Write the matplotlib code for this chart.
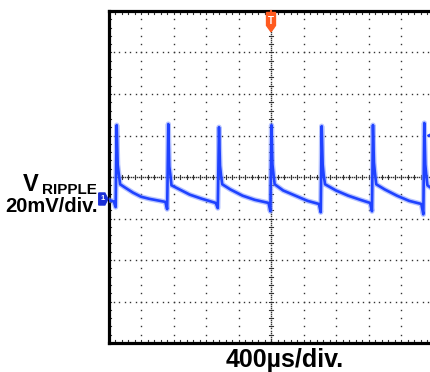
import numpy as np
import matplotlib
matplotlib.use("Agg")
import matplotlib.pyplot as plt
from matplotlib.patches import Polygon

# ---- data (time in µs relative to trigger, voltage in mV) ----
time_us = [-2000, -1935, -1912, -1899, -1887, -1875, -1857, -1800, -1700, -1600, -1500, -1300, -1278,
           -1264, -1252, -1240, -1225, -1150, -1000, -850, -680, -655,
           -640, -628, -616, -600, -500, -350, -200, -30, -8,
           6, 18, 30, 45, 150, 300, 450, 590, 612,
           624, 636, 648, 665, 800, 950, 1100, 1220, 1243,
           1255, 1267, 1279, 1295, 1400, 1550, 1700, 1850, 1875,
           1887, 1899, 1911, 1925, 1960]
ripple_mv = [-11.0, -11.8, -14.5, 25.0, 6.0, 2.0, -3.5, -5.0, -7.5, -9.5, -10.5, -12.0, -15.5,
             25.5, 5.0, 1.5, -4.0, -5.5, -8.5, -10.5, -12.5, -15.0,
             24.0, 5.5, 1.0, -3.5, -6.0, -9.0, -11.0, -12.5, -16.5,
             25.0, 6.0, 1.5, -3.5, -6.5, -9.0, -11.5, -13.0, -17.0,
             24.5, 6.0, 1.0, -3.5, -6.5, -9.0, -11.0, -12.5, -16.5,
             25.0, 7.0, 2.0, -3.5, -6.0, -9.0, -11.5, -13.0, -18.0,
             26.0, 6.0, 1.0, -4.0, -5.0]

volt_per_div = 20   # mV/div
time_per_div = 400  # µs/div
n_hdiv = 10
n_vdiv = 8
ylabel_main = "V"
ylabel_sub = "RIPPLE"
ylabel_scale = "20mV/div."
xlabel = "400µs/div."

W, H = 430, 372
fig = plt.figure(figsize=(W / 100, H / 100), dpi=100)
left_px, top_px, right_px, bottom_px = 108.5, 11, 433.5, 343
ax = fig.add_axes([left_px / W, 1 - bottom_px / H, (right_px - left_px) / W, (bottom_px - top_px) / H])
xmax = time_per_div * n_hdiv / 2
ymax = volt_per_div * n_vdiv / 2
ax.set_xlim(-xmax, xmax)
ax.set_ylim(-ymax, ymax)
ax.set_xticks([])
ax.set_yticks([])
for s in ["left", "top", "bottom"]:
    ax.spines[s].set_linewidth(2.3)
    ax.spines[s].set_color("black")
ax.spines["right"].set_visible(False)

gcol = "#333333"
# grid: vertical lines
for k in range(-4, 5):
    x = k * time_per_div
    if k == 0:
        continue
    ys = np.arange(-ymax, ymax + 0.01, volt_per_div / 5)
    ax.plot(np.full_like(ys, x), ys, ls="none", marker="s", ms=1.0, mew=0, color=gcol)
# horizontal lines
for k in range(-3, 4):
    y = k * volt_per_div
    if k == 0:
        continue
    xs = np.arange(-xmax, xmax + 0.01, time_per_div / 6)
    ax.plot(xs, np.full_like(xs, y), ls="none", marker="s", ms=1.0, mew=0, color=gcol)
# center lines: dense dots + ticks
ys = np.arange(-ymax, ymax + 0.01, 1.0)
ax.plot(np.zeros_like(ys), ys, ls="none", marker="s", ms=1.0, mew=0, color=gcol)
for y in np.arange(-ymax, ymax + 0.01, volt_per_div / 5):
    ax.plot([-30, 30], [y, y], color=gcol, lw=0.8)
xs = np.arange(-xmax, xmax + 0.01, 25)
ax.plot(xs, np.zeros_like(xs), ls="none", marker="s", ms=1.0, mew=0, color=gcol)
for x in np.arange(-xmax, xmax + 0.01, time_per_div / 5):
    ax.plot([x, x], [-1.2, 1.2], color=gcol, lw=0.8)
# edge ticks
for y in np.arange(-ymax, ymax + 0.01, volt_per_div / 5):
    ax.plot([-xmax, -xmax + 25], [y, y], color=gcol, lw=0.8)
for x in np.arange(-xmax, xmax + 0.01, time_per_div / 5):
    ax.plot([x, x], [ymax, ymax - 1.5], color=gcol, lw=0.8)
    ax.plot([x, x], [-ymax, -ymax + 1.5], color=gcol, lw=0.8)

# trace
ax.plot(time_us, ripple_mv, color="#7f96ff", lw=3.8, alpha=0.55, solid_joinstyle="round", zorder=5)
ax.plot(time_us, ripple_mv, color="#1f42ff", lw=1.9, solid_joinstyle="round", zorder=6)

# trigger marker at top
trig = Polygon([(-55, 79.3), (55, 79.3), (55, 73.0), (0, 70.0), (-55, 73.0)], closed=True,
               facecolor="#ff5a1f", edgecolor="#ff5a1f", lw=1, clip_on=False, zorder=10)
ax.add_patch(trig)
ax.plot([0, 0], [79.3, 80], color="#ff5a1f", lw=1.5, clip_on=False, zorder=10)
ax.text(0, 75.3, "T", color="white", fontsize=7, fontweight="bold", ha="center", va="center",
        family="Liberation Sans", zorder=11, clip_on=False)

# channel 1 ground marker on left
ch = Polygon([(-2120, -7.7), (-2045, -7.7), (-2008, -10.6), (-2045, -13.5), (-2120, -13.5)], closed=True,
             facecolor="#1a2fd6", edgecolor="#1a2fd6", clip_on=False, zorder=10)
ax.add_patch(ch)
ax.text(-2075, -10.6, "1", color="white", fontsize=5.5, fontweight="bold", ha="center", va="center",
        family="Liberation Sans", zorder=11, clip_on=False)

# trigger level marker at right edge
ax.plot([1952], [20.2], marker="<", ms=5, color="#1f3dff", clip_on=False, zorder=10)

# labels
fam = "Liberation Sans"
fig.text(23 / W, 1 - 191 / H, ylabel_main, fontsize=17, fontweight="bold", family=fam, ha="left", va="baseline")
fig.text(42 / W, 1 - 194 / H, ylabel_sub, fontsize=11, fontweight="bold", family=fam, ha="left", va="baseline")
fig.text(98 / W, 1 - 212 / H, ylabel_scale, fontsize=14.5, fontweight="bold", family=fam, ha="right", va="baseline")
fig.text(285 / W, 1 - 367 / H, xlabel, fontsize=18, fontweight="bold", family=fam, ha="center", va="baseline")

fig.savefig("out.png", dpi=100)
